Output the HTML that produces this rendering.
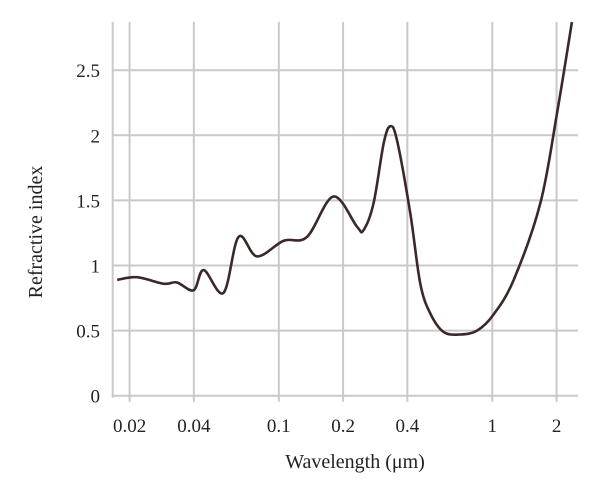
<!DOCTYPE html>
<html><head><meta charset="utf-8"><style>
html,body{margin:0;padding:0;background:#fff;}
svg text{font-family:"Liberation Serif",serif;fill:#222;}
</style></head><body>
<svg id="chart" width="600" height="495" xmlns="http://www.w3.org/2000/svg">
<g id="grid"></g>
<g id="xticks"></g>
<g id="yticks"></g>
<path id="curve" fill="none" stroke="#3b2828" stroke-width="2.6" stroke-linejoin="round"/>
<text x="355" y="468" font-size="20" text-anchor="middle">Wavelength (μm)</text>
<text transform="translate(42,232) rotate(-90)" font-size="20" text-anchor="middle">Refractive index</text>
</svg>
<script>
const wavelengths=[0.0175,0.0217,0.0289,0.0333,0.0399,0.0445,0.0551,0.0648,0.0791,0.1054,0.1356,0.180,0.232,0.249,0.278,0.310,0.333,0.358,0.413,0.460,0.513,0.591,0.708,0.848,1.01,1.26,1.68,2.01,2.36];
const indexValues=[0.89,0.91,0.86,0.87,0.81,0.965,0.79,1.22,1.07,1.19,1.22,1.53,1.30,1.27,1.48,1.94,2.07,1.96,1.40,0.86,0.63,0.49,0.47,0.50,0.62,0.89,1.48,2.17,2.87];
const xTicks=[0.02,0.04,0.1,0.2,0.4,1,2];
const xTickLabels=["0.02","0.04","0.1","0.2","0.4","1","2"];
const yTicks=[0,0.5,1,1.5,2,2.5];
const yTickLabels=["0","0.5","1","1.5","2","2.5"];
const NS="http://www.w3.org/2000/svg";
const plotLeft=112.7,plotRight=578,plotTop=22,plotBottom=395.7;
function xs(l){return 492.3+213.5*Math.log10(l);}
function ys(v){return 395.7-130.2*v;}
const gridG=document.getElementById('grid');
function gline(x1,y1,x2,y2,name){const l=document.createElementNS(NS,'line');
l.setAttribute('x1',x1);l.setAttribute('y1',y1);l.setAttribute('x2',x2);l.setAttribute('y2',y2);
l.setAttribute('stroke','#c9c9c9');l.setAttribute('stroke-width','2');


gridG.appendChild(l);}
gline(plotLeft,plotTop,plotLeft,plotBottom+2,'y-axis-line');
xTicks.forEach((t,i)=>{gline(xs(t),plotTop,xs(t),plotBottom+6,'x-gridline');
const tx=document.createElementNS(NS,'text');tx.setAttribute('x',xs(t));tx.setAttribute('y',432);
tx.setAttribute('font-size','19');tx.setAttribute('text-anchor','middle');tx.textContent=xTickLabels[i];


document.getElementById('xticks').appendChild(tx);});
yTicks.forEach((t,i)=>{gline(plotLeft,ys(t),plotRight,ys(t),'y-gridline');
const tx=document.createElementNS(NS,'text');tx.setAttribute('x',100);tx.setAttribute('y',ys(t)+7);
tx.setAttribute('font-size','19');tx.setAttribute('text-anchor','end');tx.textContent=yTickLabels[i];


document.getElementById('yticks').appendChild(tx);});
const pts=wavelengths.map((w,i)=>[xs(w),ys(indexValues[i])]);
let d='M'+pts[0][0]+','+pts[0][1];
for(let i=0;i<pts.length-1;i++){const p0=pts[Math.max(0,i-1)],p1=pts[i],p2=pts[i+1],p3=pts[Math.min(pts.length-1,i+2)];
const c1=[p1[0]+(p2[0]-p0[0])/6,p1[1]+(p2[1]-p0[1])/6],c2=[p2[0]-(p3[0]-p1[0])/6,p2[1]-(p3[1]-p1[1])/6];
d+=' C'+c1[0]+','+c1[1]+' '+c2[0]+','+c2[1]+' '+p2[0]+','+p2[1];}
document.getElementById('curve').setAttribute('d',d);
</script>
</body></html>
